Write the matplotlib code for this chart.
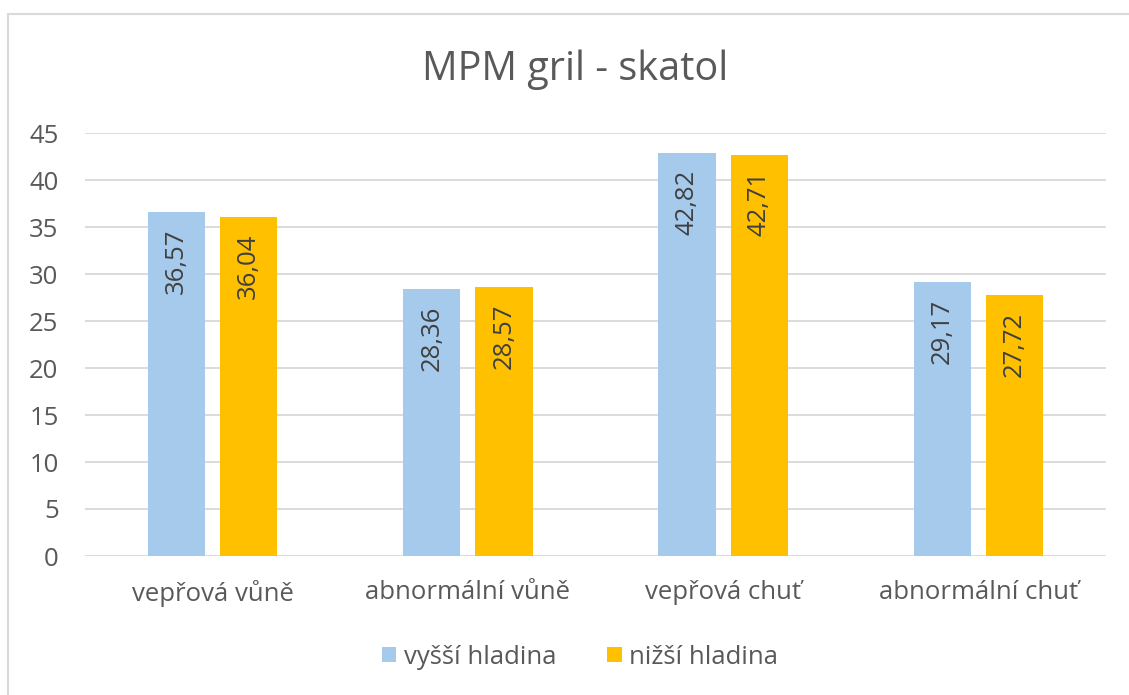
import numpy as np
import matplotlib.pyplot as plt
from matplotlib.patches import Rectangle

plt.rcParams['font.family'] = ['Open Sans', 'DejaVu Sans']

# data
categories = ['vepřová vůně', 'abnormální vůně', 'vepřová chuť', 'abnormální chuť']
series_names = ['vyšší hladina', 'nižší hladina']
vyssi = [36.57, 28.36, 42.82, 29.17]
nizsi = [36.04, 28.57, 42.71, 27.72]
colors = ['#A6CAEC', '#FFC000']
text_col = '#595959'

fig = plt.figure(figsize=(11.29, 6.95), dpi=100)
W, H = 1129, 695

# chart border
fig.patches.append(Rectangle((8 / W, -0.01), 1.2, 1 - 14 / H + 0.01,
                             transform=fig.transFigure, fill=False,
                             edgecolor='#D9D9D9', linewidth=1.5))

ax = fig.add_axes([85 / W, 1 - 556 / H, (1106 - 85) / W, (556 - 133) / H])

x = np.arange(len(categories))
bw = 0.224
off = (bw + 15 / 255) / 2
bars1 = ax.bar(x - off, vyssi, bw, color=colors[0], label=series_names[0], zorder=2)
bars2 = ax.bar(x + off, nizsi, bw, color=colors[1], label=series_names[1], zorder=2)

for bars, vals in [(bars1, vyssi), (bars2, nizsi)]:
    for b, v in zip(bars, vals):
        ax.annotate(f'{v:.2f}'.replace('.', ','),
                    (b.get_x() + b.get_width() / 2, v),
                    xytext=(0, -12), textcoords='offset points',
                    rotation=90, ha='center', va='top',
                    fontsize=18.5, color='#404040')

ax.set_xlim(-0.5, 3.5)
ax.set_ylim(0, 45)
ax.set_yticks(range(0, 46, 5))
ax.set_xticks(x)
ax.set_xticklabels(categories)
ax.grid(axis='y', color='#D9D9D9', linewidth=1.3, zorder=0)
for s in ax.spines.values():
    s.set_visible(False)
ax.tick_params(length=0, labelsize=18.5, colors=text_col)
ax.tick_params(axis='x', pad=17)
ax.tick_params(axis='y', pad=19)

fig.text(575 / W, 1 - 70 / H, 'MPM gril - skatol', ha='center', va='center',
         fontsize=28.5, color=text_col)

fig.legend(loc='center', bbox_to_anchor=(580 / W, 1 - 657 / H), ncol=2,
           frameon=False, fontsize=18.5, handlelength=0.55, handleheight=0.55,
           handletextpad=0.3, columnspacing=2.0, labelcolor=text_col)

fig.savefig('out.png', dpi=100)
